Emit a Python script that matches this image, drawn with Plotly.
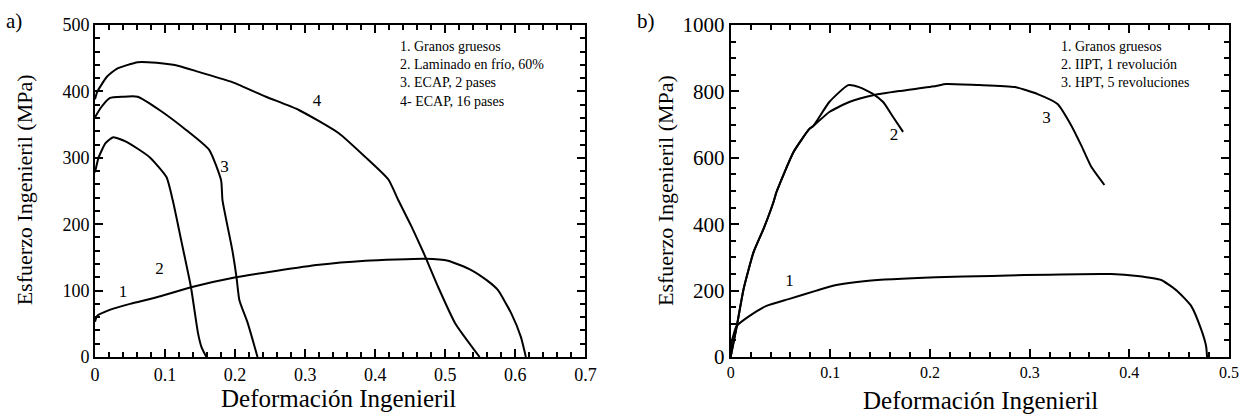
import plotly.graph_objects as go

# ---------------- Panel a) data ----------------
a1_strain = [0.0, 0.003, 0.021, 0.05, 0.088, 0.137, 0.201, 0.26, 0.32, 0.386, 0.43, 0.471, 0.504, 0.537, 0.56, 0.575, 0.594, 0.608, 0.615]
a1_stress = [53, 62, 71, 80, 90, 105, 120, 130, 139, 145, 147, 148, 145, 131, 115, 101, 66, 30, 0]

a2_strain = [0.0, 0.005, 0.015, 0.026, 0.045, 0.078, 0.102, 0.111, 0.123, 0.137, 0.147, 0.152, 0.159]
a2_stress = [278, 300, 322, 331, 324, 301, 271, 236, 176, 105, 36, 15, 0]

a3_strain = [0.0, 0.008, 0.021, 0.04, 0.061, 0.092, 0.13, 0.163, 0.18, 0.182, 0.196, 0.202, 0.206, 0.218, 0.232]
a3_stress = [361, 375, 390, 392, 392, 372, 342, 312, 266, 236, 161, 120, 86, 51, 0]

a4_strain = [0.0, 0.003, 0.017, 0.031, 0.061, 0.088, 0.121, 0.149, 0.196, 0.244, 0.291, 0.348, 0.386, 0.419, 0.433, 0.452, 0.469, 0.49, 0.514, 0.549]
a4_stress = [388, 399, 422, 434, 444, 443, 438, 429, 414, 392, 372, 337, 301, 267, 236, 196, 157, 105, 51, 0]

# ---------------- Panel b) data ----------------
b1_strain = [0.0, 0.001, 0.006, 0.019, 0.036, 0.059, 0.086, 0.106, 0.136, 0.206, 0.262, 0.295, 0.382, 0.408, 0.432, 0.448, 0.462, 0.472, 0.477, 0.478]
b1_stress = [0, 45, 93, 124, 154, 175, 200, 217, 229, 240, 244, 247, 250, 244, 232, 199, 154, 84, 33, 0]

b2_strain = [0.0, 0.006, 0.013, 0.023, 0.033, 0.043, 0.046, 0.063, 0.079, 0.083, 0.099, 0.118, 0.129, 0.143, 0.153, 0.163, 0.173]
b2_stress = [0, 90, 205, 316, 386, 467, 497, 617, 687, 696, 768, 819, 813, 792, 768, 723, 678]

b3_strain = [0.0, 0.006, 0.013, 0.023, 0.033, 0.043, 0.046, 0.063, 0.079, 0.083, 0.099, 0.119, 0.144, 0.169, 0.206, 0.216, 0.249, 0.285, 0.308, 0.328, 0.342, 0.352, 0.362, 0.375]
b3_stress = [0, 90, 205, 316, 386, 467, 497, 617, 687, 696, 738, 768, 789, 801, 816, 822, 819, 813, 792, 762, 696, 636, 572, 518]

legend_a = ["1. Granos gruesos", "2. Laminado en frío, 60%", "3. ECAP, 2 pases", "4- ECAP, 16 pases"]
legend_b = ["1. Granos gruesos", "2. IIPT, 1 revolución", "3. HPT, 5 revoluciones"]

labels_a = ["1", "2", "3", "4"]
labels_a_x = [0.04, 0.092, 0.185, 0.317]
labels_a_y = [97, 131, 285, 384]
labels_b = ["1", "2", "3"]
labels_b_x = [0.059, 0.164, 0.317]
labels_b_y = [226, 666, 717]

FONT = "Liberation Serif, 'Times New Roman', 'DejaVu Serif', serif"
W, H = 1252, 420
ML, MR, MT, MB = 95, 17, 25, 63
PW, PH = W - ML - MR, H - MT - MB

fig = go.Figure()
line = dict(color="black", width=2, shape="spline", smoothing=0.5)
for xs, ys in [(a1_strain, a1_stress), (a2_strain, a2_stress), (a3_strain, a3_stress), (a4_strain, a4_stress)]:
    fig.add_trace(go.Scatter(x=xs, y=ys, mode="lines", line=line, xaxis="x", yaxis="y", showlegend=False))
for xs, ys in [(b1_strain, b1_stress), (b2_strain, b2_stress), (b3_strain, b3_stress)]:
    fig.add_trace(go.Scatter(x=xs, y=ys, mode="lines", line=line, xaxis="x2", yaxis="y2", showlegend=False))

# curve-number labels drawn as text traces through the axes
fig.add_trace(go.Scatter(x=labels_a_x, y=labels_a_y, mode="text", text=labels_a, textfont=dict(size=17),
                         xaxis="x", yaxis="y", showlegend=False, hoverinfo="skip"))
fig.add_trace(go.Scatter(x=labels_b_x, y=labels_b_y, mode="text", text=labels_b, textfont=dict(size=17),
                         xaxis="x2", yaxis="y2", showlegend=False, hoverinfo="skip"))


def px_x(p):
    return (p - ML) / PW


def px_y(p):
    return (H - MB - p) / PH


common = dict(showgrid=False, showline=True, linecolor="black", linewidth=2,
              mirror="allticks", ticks="inside", ticklen=8, tickwidth=1.5, tickcolor="black")


def minor(d):
    return dict(dtick=d, ticks="inside", ticklen=5, tickcolor="black", tickwidth=1.5, showgrid=False)


fig.update_layout(
    width=W, height=H, margin=dict(l=ML, r=MR, t=MT, b=MB),
    plot_bgcolor="white",
    font=dict(family=FONT, color="black", size=18),
    xaxis=dict(domain=[0, px_x(588)], range=[0, 0.7], dtick=0.1, minor=minor(0.02), **common),
    yaxis=dict(domain=[0, 1], range=[0, 500], dtick=100, minor=minor(20), **common),
    xaxis2=dict(domain=[px_x(734), 1], anchor="y2", range=[0, 0.5], dtick=0.1, minor=minor(0.02),
                tickfont=dict(size=16), **common),
    yaxis2=dict(domain=[0, 1], anchor="x2", range=[0, 1000], dtick=200, minor=minor(50),
                tickfont=dict(size=21), **common),
)

ann = []
ann.append(dict(x=px_x(400), y=px_y(37), xref="paper", yref="paper", xanchor="left", yanchor="top", align="left",
                text="<br>".join(legend_a), showarrow=False, font=dict(size=14)))
ann.append(dict(x=px_x(1064), y=px_y(37), xref="paper", yref="paper", xanchor="left", yanchor="top", align="left",
                text="<br>".join(legend_b), showarrow=False, font=dict(size=14)))
ann.append(dict(x=px_x(4), y=px_y(21), xref="paper", yref="paper", xanchor="left", yanchor="middle",
                text="a)", showarrow=False, font=dict(size=21)))
ann.append(dict(x=px_x(638), y=px_y(21), xref="paper", yref="paper", xanchor="left", yanchor="middle",
                text="b)", showarrow=False, font=dict(size=21)))
ann.append(dict(x=px_x(24), y=px_y(190), xref="paper", yref="paper", xanchor="center", yanchor="middle",
                text="Esfuerzo Ingenieril (MPa)", textangle=-90, showarrow=False, font=dict(size=22)))
ann.append(dict(x=px_x(668), y=px_y(190), xref="paper", yref="paper", xanchor="center", yanchor="middle",
                text="Esfuerzo Ingenieril (MPa)", textangle=-90, showarrow=False, font=dict(size=22)))
ann.append(dict(x=px_x(340), y=px_y(398), xref="paper", yref="paper", xanchor="center", yanchor="middle",
                text="Deformación Ingenieril", showarrow=False, font=dict(size=25)))
ann.append(dict(x=px_x(985), y=px_y(400), xref="paper", yref="paper", xanchor="center", yanchor="middle",
                text="Deformación Ingenieril", showarrow=False, font=dict(size=25)))
fig.update_layout(annotations=ann)

fig.write_html("out.html")
